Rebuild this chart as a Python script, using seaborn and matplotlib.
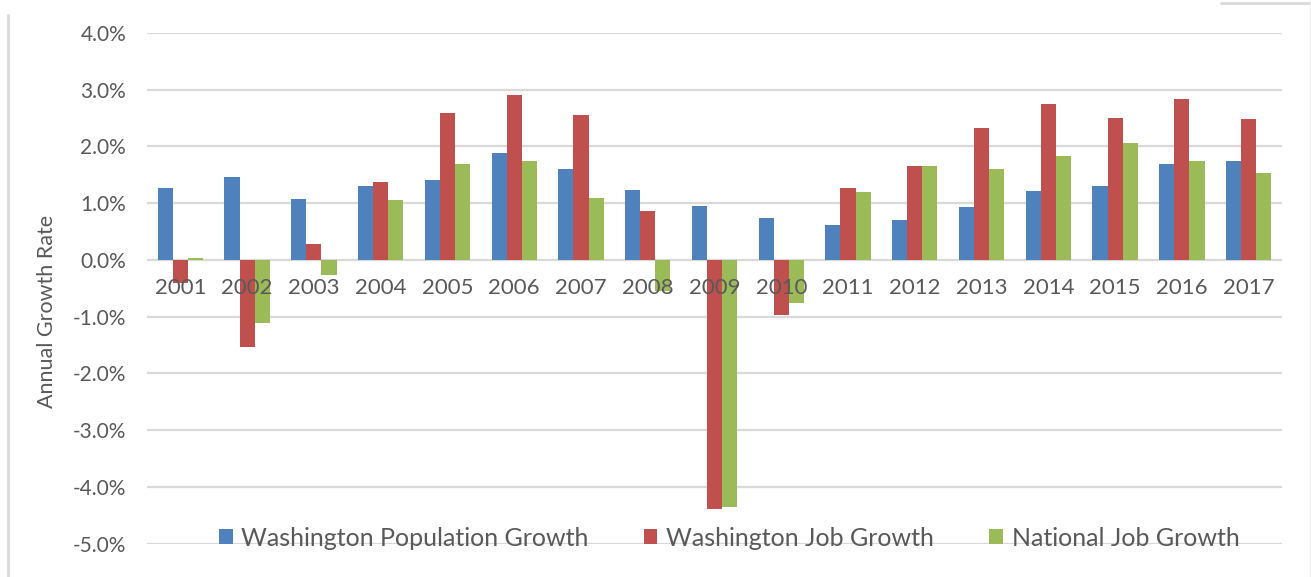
import matplotlib
matplotlib.use("Agg")
import matplotlib.pyplot as plt
from matplotlib.lines import Line2D
from matplotlib.patches import Patch
import pandas as pd
import seaborn as sns

years = ["2001", "2002", "2003", "2004", "2005", "2006", "2007", "2008", "2009",
         "2010", "2011", "2012", "2013", "2014", "2015", "2016", "2017"]
wa_population = [1.26, 1.47, 1.07, 1.31, 1.41, 1.88, 1.61, 1.23, 0.95,
                 0.74, 0.61, 0.70, 0.93, 1.21, 1.30, 1.70, 1.74]
wa_jobs = [-0.41, -1.53, 0.29, 1.37, 2.59, 2.91, 2.55, 0.87, -4.38,
           -0.97, 1.26, 1.66, 2.33, 2.75, 2.50, 2.84, 2.48]
us_jobs = [0.04, -1.11, -0.26, 1.05, 1.70, 1.75, 1.09, -0.55, -4.35,
           -0.76, 1.19, 1.66, 1.61, 1.84, 2.06, 1.75, 1.54]
series_names = ["Washington Population Growth", "Washington Job Growth",
                "National Job Growth"]
colors = ["#4F81BD", "#C0504D", "#9BBB59"]
y_ticks = [-5, -4, -3, -2, -1, 0, 1, 2, 3, 4]

df = pd.DataFrame({
    "Year": years * 3,
    "Growth": wa_population + wa_jobs + us_jobs,
    "Series": [series_names[0]] * len(years) + [series_names[1]] * len(years)
              + [series_names[2]] * len(years),
})

sns.set_theme(style="white")
plt.rcParams["font.family"] = ["Lato", "DejaVu Sans"]
text_color = "#595959"
grid_color = "#D9D9D9"

fig = plt.figure(figsize=(13.11, 5.77), dpi=100)
ax = fig.add_axes([147 / 1311, 1 - 543.7 / 577, (1282 - 147) / 1311, (543.7 - 33) / 577])

sns.barplot(data=df, x="Year", y="Growth", hue="Series", order=years,
            hue_order=series_names, palette=colors, width=0.68, gap=0,
            saturation=1, linewidth=0, errorbar=None, legend=False, ax=ax)

ax.set_ylim(-5, 4)
ax.set_xlim(-0.5, len(years) - 0.5)
ax.set_yticks(y_ticks)
ax.set_yticklabels([f"{v:.1f}%" for v in y_ticks], color=text_color, fontsize=15)
ax.yaxis.grid(True, color=grid_color, linewidth=1.6)
ax.set_axisbelow(True)

# Category labels sit just under the zero line, drawn over the bars
ax.spines["bottom"].set_position(("data", 0))
for s in ["bottom", "top", "left", "right"]:
    ax.spines[s].set_visible(False)
ax.tick_params(axis="x", length=0, pad=13, labelsize=16, labelcolor=text_color)
ax.tick_params(axis="y", length=0, pad=15)
ax.xaxis.set_zorder(3)
ax.set_xlabel("")
ax.set_ylabel("")

fig.text(47 / 1311, 1 - 311 / 577, "Annual Growth Rate", rotation=90,
         ha="center", va="center", fontsize=15.5, color=text_color)

handles = [Patch(facecolor=c, edgecolor="none", label=n) for c, n in zip(colors, series_names)]
fig.legend(handles=handles, loc="center", bbox_to_anchor=(729 / 1311, 1 - 538 / 577),
           ncol=3, frameon=False, fontsize=18, labelcolor=text_color,
           handlelength=0.55, handleheight=0.55, handletextpad=0.35,
           columnspacing=2.2)

# Thin frame fragments around the chart area
fig.add_artist(Line2D([8 / 1311, 8 / 1311], [0, 1 - 15 / 577], transform=fig.transFigure,
                      color="#D9D9D9", linewidth=2))
fig.add_artist(Line2D([1221 / 1311, 1], [1 - 3 / 577, 1 - 3 / 577], transform=fig.transFigure,
                      color="#D9D9D9", linewidth=2))
fig.add_artist(Line2D([1310 / 1311, 1310 / 1311], [0, 1], transform=fig.transFigure,
                      color="#EEEEEE", linewidth=1))

fig.savefig("out.png", dpi=100)
